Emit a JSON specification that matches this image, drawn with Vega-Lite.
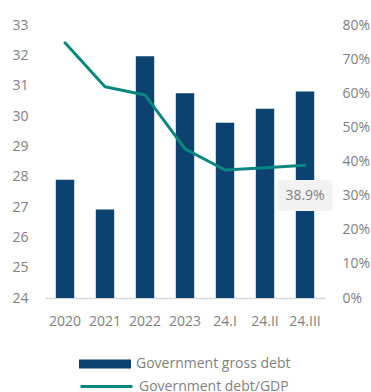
{
  "$schema": "https://vega.github.io/schema/vega-lite/v6.json",
  "width": 280,
  "height": 273,
  "autosize": {"type": "none"},
  "padding": {"left": 45, "top": 25, "right": 46, "bottom": 94},
  "background": "#ffffff",
  "config": {
    "view": {"stroke": null},
    "font": "Open Sans",
    "axis": {"labelFont": "Open Sans", "labelFontSize": 14, "labelColor": "#7f7f7f", "grid": false, "ticks": false, "title": null, "labelOverlap": false},
    "legend": {"labelFont": "Open Sans", "labelFontSize": 14, "labelColor": "#7f7f7f", "padding": 0}
  },
  "data": {
    "values": [
      {"cat": "2020", "debt": 27.9, "pct": 0.748},
      {"cat": "2021", "debt": 26.92, "pct": 0.619},
      {"cat": "2022", "debt": 31.97, "pct": 0.595},
      {"cat": "2023", "debt": 30.75, "pct": 0.437},
      {"cat": "24.I", "debt": 29.78, "pct": 0.375},
      {"cat": "24.II", "debt": 30.24, "pct": 0.382},
      {"cat": "24.III", "debt": 30.81, "pct": 0.389}
    ]
  },
  "encoding": {
    "x": {
      "field": "cat", "type": "nominal", "sort": null,
      "scale": {"paddingInner": 0.54, "paddingOuter": 0.27},
      "axis": {"labelAngle": 0, "domainColor": "#d9d9d9", "domainWidth": 1.5, "labelPadding": 16}
    }
  },
  "layer": [
    {
      "mark": {"type": "bar", "clip": true},
      "encoding": {
        "y": {
          "field": "debt", "type": "quantitative",
          "scale": {"domain": [24, 33], "zero": false, "nice": false},
          "axis": {"orient": "left", "domain": false, "values": [24, 25, 26, 27, 28, 29, 30, 31, 32, 33], "labelPadding": 17, "labelOverlap": false}
        },
        "fill": {
          "datum": "Government gross debt",
          "scale": {"range": ["#0b426f"]},
          "legend": {
            "orient": "none", "legendX": 34, "legendY": 313, "title": null,
            "symbolType": "M-1,-0.173H1V0.173H-1Z", "symbolSize": 2704, "symbolStrokeWidth": 0, "labelOffset": 5
          }
        }
      }
    },
    {
      "layer": [
        {
          "mark": {"type": "line", "strokeWidth": 3, "strokeCap": "round", "strokeJoin": "round"},
          "encoding": {
            "y": {
              "field": "pct", "type": "quantitative",
              "scale": {"domain": [0, 0.8], "nice": false},
              "axis": {"orient": "right", "domain": false, "format": ".0%", "values": [0, 0.1, 0.2, 0.3, 0.4, 0.5, 0.6, 0.7, 0.8], "labelPadding": 17, "labelOverlap": false}
            },
            "stroke": {
              "datum": "Government debt/GDP",
              "scale": {"range": ["#0a8780"]},
              "legend": {
                "orient": "none", "legendX": 34, "legendY": 334, "title": null,
                "symbolType": "stroke", "symbolSize": 2704, "symbolStrokeWidth": 3, "labelOffset": 5
              }
            }
          }
        },
        {
          "transform": [{"filter": "datum.cat === '24.III'"}],
          "mark": {"type": "bar", "color": "#f2f2f2", "width": {"band": 2.97}},
          "encoding": {
            "y": {"datum": 0.3458, "type": "quantitative", "axis": {"orient": "right", "domain": false, "format": ".0%", "values": [0, 0.1, 0.2, 0.3, 0.4, 0.5, 0.6, 0.7, 0.8], "labelPadding": 17, "labelOverlap": false}},
            "y2": {"datum": 0.255}
          }
        },
        {
          "transform": [{"filter": "datum.cat === '24.III'"}],
          "mark": {"type": "text", "color": "#7f7f7f", "fontSize": 14, "font": "Open Sans", "dy": 31, "baseline": "middle"},
          "encoding": {
            "y": {"field": "pct", "type": "quantitative", "axis": {"orient": "right", "domain": false, "format": ".0%", "values": [0, 0.1, 0.2, 0.3, 0.4, 0.5, 0.6, 0.7, 0.8], "labelPadding": 17, "labelOverlap": false}},
            "text": {"field": "pct", "type": "quantitative", "format": ".1%"}
          }
        }
      ]
    }
  ],
  "resolve": {"scale": {"y": "independent"}}
}
